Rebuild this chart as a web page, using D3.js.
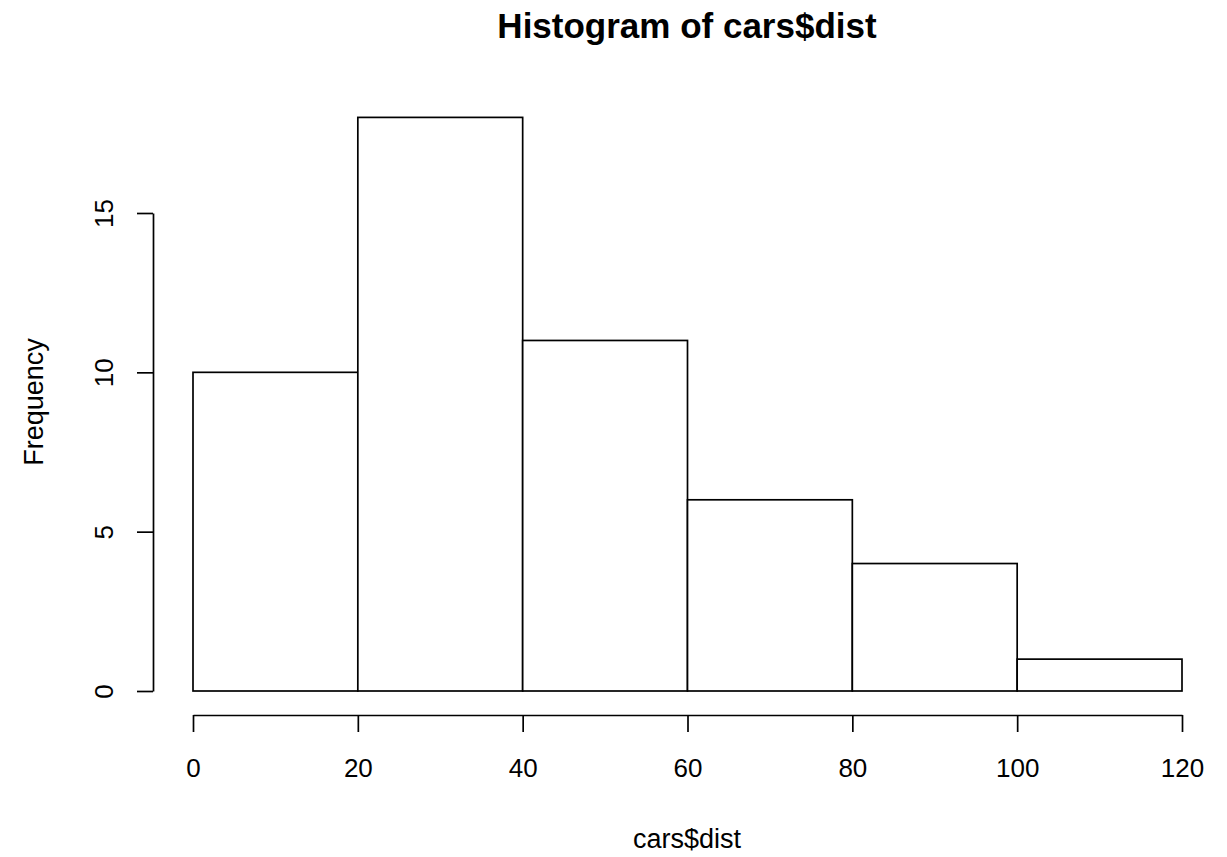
<!DOCTYPE html>
<html>
<head>
<meta charset="utf-8">
<script src="https://cdn.jsdelivr.net/npm/d3@7"></script>
<style>
  html, body { margin: 0; padding: 0; background: #fff; }
  svg { display: block; }
  text { font-family: "Liberation Sans", Arial, sans-serif; fill: #000; }
</style>
</head>
<body>
<svg id="chart" width="1227" height="857"></svg>
<script>
// Data
const breaks = [0, 20, 40, 60, 80, 100, 120];
const counts = [10, 18, 11, 6, 4, 1];
const xTicks = [0, 20, 40, 60, 80, 100, 120];
const yTicks = [0, 5, 10, 15];
const titleText = "Histogram of cars$dist";
const xLabel = "cars$dist";
const yLabel = "Frequency";

const svg = d3.select("#chart");

const x = d3.scaleLinear().domain([0, 120]).range([193, 1182]);
const y = d3.scaleLinear().domain([0, 15]).range([691, 213]);

const bins = counts.map((c, i) => ({ x0: breaks[i], x1: breaks[i + 1], n: c }));

// Bars
svg.append("g").selectAll("rect").data(bins).join("rect")
  .attr("x", d => x(d.x0))
  .attr("y", d => y(d.n))
  .attr("width", d => x(d.x1) - x(d.x0))
  .attr("height", d => y(0) - y(d.n))
  .attr("fill", "#fff")
  .attr("stroke", "#000")
  .attr("stroke-width", 1.7);

// X axis
const xAxis = svg.append("g").attr("transform", "translate(0,715)")
  .call(d3.axisBottom(x).tickValues(xTicks).tickSize(17).tickSizeOuter(0).tickFormat(d3.format("d")));
xAxis.select(".domain").attr("stroke", "#000").attr("stroke-width", 1.7);
xAxis.selectAll(".tick line").attr("stroke", "#000").attr("stroke-width", 1.7);
xAxis.selectAll(".tick text")
  .attr("font-size", 26)
  .attr("font-family", "Liberation Sans, Arial, sans-serif")
  .attr("fill", "#000")
  .attr("dy", null)
  .attr("y", 62);

// Y axis
const yAxis = svg.append("g").attr("transform", "translate(153,0)")
  .call(d3.axisLeft(y).tickValues(yTicks).tickSize(16).tickSizeOuter(0).tickFormat(d3.format("d")));
yAxis.select(".domain").attr("stroke", "#000").attr("stroke-width", 1.7);
yAxis.selectAll(".tick line").attr("stroke", "#000").attr("stroke-width", 1.7);
yAxis.selectAll(".tick text")
  .attr("font-size", 26)
  .attr("font-family", "Liberation Sans, Arial, sans-serif")
  .attr("fill", "#000")
  .attr("x", null).attr("dy", null)
  .attr("text-anchor", "middle")
  .attr("transform", "translate(-40,0) rotate(-90)");

// Title
svg.append("text")
  .attr("x", 687).attr("y", 38)
  .attr("text-anchor", "middle")
  .attr("font-size", 35)
  .attr("font-weight", "bold")
  .text(titleText);

// X label
svg.append("text")
  .attr("x", 687).attr("y", 848)
  .attr("text-anchor", "middle")
  .attr("font-size", 27)
  .text(xLabel);

// Y label
svg.append("text")
  .attr("transform", "translate(43,402) rotate(-90)")
  .attr("text-anchor", "middle")
  .attr("font-size", 27)
  .text(yLabel);
</script>
</body>
</html>
